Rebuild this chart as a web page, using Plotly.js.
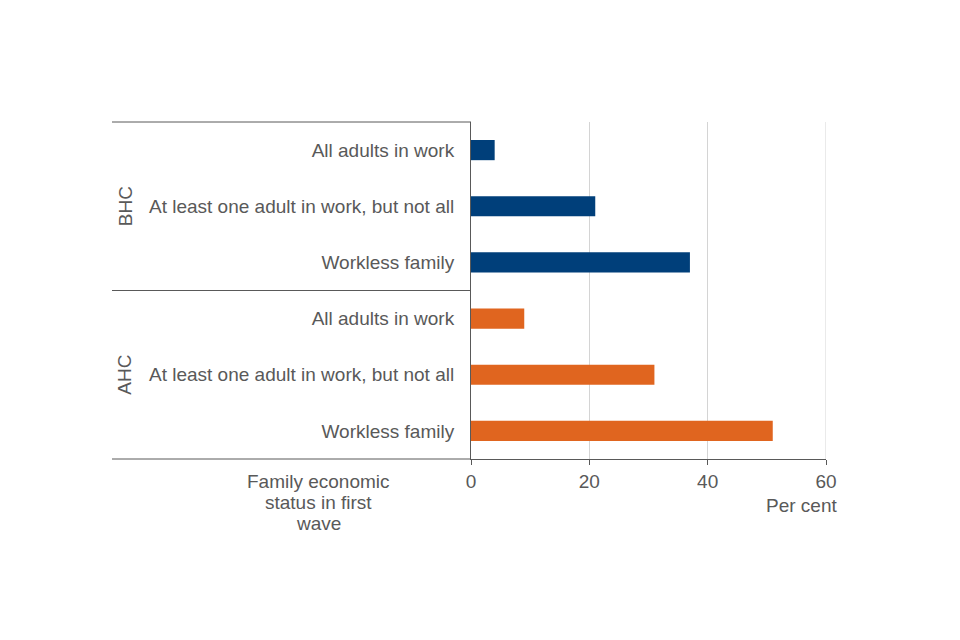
<!DOCTYPE html>
<html>
<head>
<meta charset="utf-8">
<script src="https://cdn.plot.ly/plotly-3.0.1.min.js"></script>
<style>html,body{margin:0;padding:0;background:#fff;}#chart{width:960px;height:640px;}</style>
</head>
<body>
<div id="chart"></div>
<script>
var categories = ["All adults in work", "At least one adult in work, but not all", "Workless family"];
var groups = ["BHC", "AHC"];
var bhcValues = [4, 21, 37];
var ahcValues = [9, 31, 51];
var xTicks = [0, 20, 40, 60];
var xAxisTitle = "Per cent";
var yAxisTitleLines = ["Family economic", "status in first", "wave"];

var textColor = "#595959";
var fontFamily = "Liberation Sans, Arial, sans-serif";
var fs = 19;
var gridColor = "#d4d4d4";

var bhcY = categories.map(function(_, i){ return i; });
var ahcY = categories.map(function(_, i){ return i + categories.length; });

var traces = [
  {type: "bar", orientation: "h", x: bhcValues, y: bhcY, width: 0.36,
   marker: {color: "#003f7a"}, name: groups[0], hoverinfo: "x"},
  {type: "bar", orientation: "h", x: ahcValues, y: ahcY, width: 0.36,
   marker: {color: "#e0651f"}, name: groups[1], hoverinfo: "x"}
];

var n = categories.length * 2;
var leftX = -(471 - 112) / 355;
var xMax = xTicks[xTicks.length - 1];

var annotations = [
  {xref: "paper", yref: "y", x: (125 - 471) / 355, y: (categories.length - 1) / 2,
   text: groups[0], textangle: -90, showarrow: false, xanchor: "center", yanchor: "middle",
   font: {size: fs, color: textColor}},
  {xref: "paper", yref: "y", x: (125 - 471) / 355, y: categories.length + (categories.length - 1) / 2,
   text: groups[1], textangle: -90, showarrow: false, xanchor: "center", yanchor: "middle",
   font: {size: fs, color: textColor}},
  {xref: "paper", yref: "paper", x: (839 - 471) / 355, y: -(505 - 459) / 337,
   text: xAxisTitle, showarrow: false, xanchor: "right", yanchor: "middle",
   font: {size: fs, color: textColor}}
];
yAxisTitleLines.forEach(function(line, i){
  annotations.push({xref: "paper", yref: "paper", x: (318 - 471) / 355, y: -(481 + 21 * i - 459) / 337,
    text: line, showarrow: false, xanchor: "center", yanchor: "middle",
    font: {size: fs, color: textColor}});
});

var layout = {
  width: 960, height: 640,
  margin: {l: 471, r: 134, t: 122, b: 181, pad: 0},
  paper_bgcolor: "#fff", plot_bgcolor: "#fff",
  showlegend: false,
  barmode: "overlay",
  font: {family: fontFamily, size: fs, color: textColor},
  xaxis: {
    range: [0, xMax], tickvals: xTicks, ticktext: xTicks.map(String),
    showgrid: true, gridcolor: gridColor, gridwidth: 1,
    zeroline: false, showline: true, linecolor: "#595959", linewidth: 1,
    ticks: "outside", ticklen: 5, tickcolor: "#595959",
    tickfont: {size: fs, color: textColor}, fixedrange: true
  },
  yaxis: {
    range: [n - 0.5, -0.5],
    tickvals: bhcY.concat(ahcY),
    ticktext: categories.concat(categories),
    showgrid: false, zeroline: false, showline: true, linecolor: "#595959", linewidth: 1,
    ticks: "", ticklabelstandoff: 12,
    tickfont: {size: fs, color: textColor}, fixedrange: true
  },
  shapes: [
    {type: "line", xref: "x", yref: "paper", x0: xMax, x1: xMax, y0: 0, y1: 1, layer: "below", line: {color: gridColor, width: 1}},
    {type: "line", xref: "paper", yref: "paper", x0: leftX, x1: 0, y0: 1, y1: 1, line: {color: "#595959", width: 1}},
    {type: "line", xref: "paper", yref: "paper", x0: leftX, x1: 0, y0: 0.5, y1: 0.5, line: {color: "#595959", width: 1}},
    {type: "line", xref: "paper", yref: "paper", x0: leftX, x1: 0, y0: 0, y1: 0, line: {color: "#595959", width: 1}}
  ],
  annotations: annotations
};

Plotly.newPlot("chart", traces, layout, {displayModeBar: false, staticPlot: true});
</script>
</body>
</html>
